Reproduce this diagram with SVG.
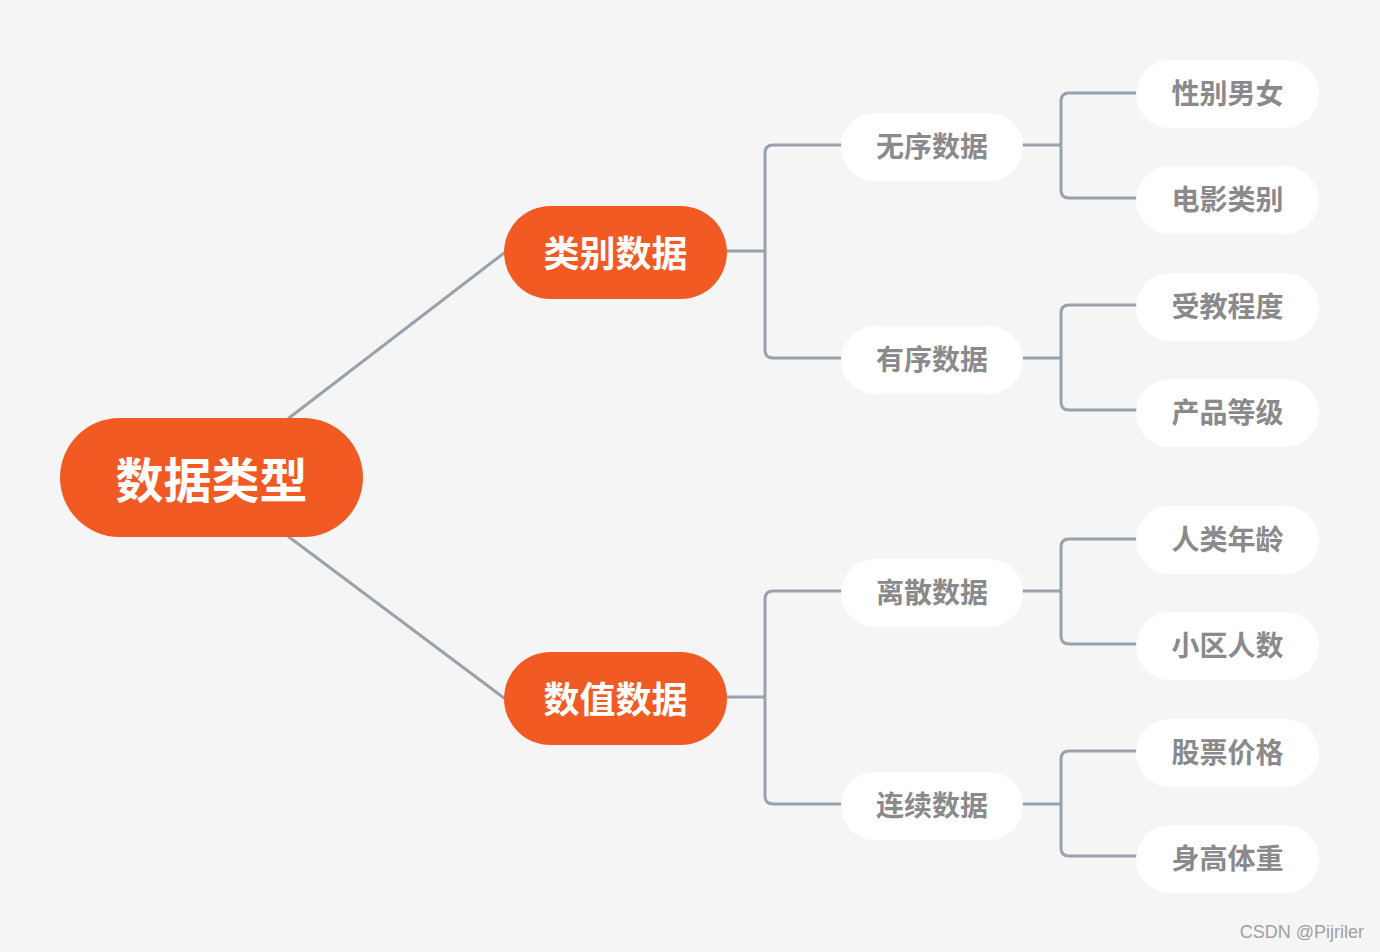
<svg xmlns="http://www.w3.org/2000/svg" width="1380" height="952" viewBox="0 0 1380 952">
<style>
.bg{fill:#f5f5f5}
.conn{fill:none;stroke:#98a2ac;stroke-width:3;stroke-linecap:round;stroke-linejoin:round}
.main{fill:#f25a24}
.sub{fill:#ffffff}
.t{font-family:"Noto Sans CJK SC","Noto Sans",sans-serif;font-weight:bold;text-anchor:middle;dominant-baseline:central}
.tw{fill:#ffffff}
.tg{fill:#8a8a8c;font-size:28px}
.wm{font-family:"Liberation Sans",Arial,sans-serif;font-size:18px;fill:#a0a0a0}
</style>
<rect class="bg" x="0" y="0" width="1380" height="952"/>
<g id="connectors">
<line class="conn" x1="289" y1="418" x2="504" y2="253"/>
<line class="conn" x1="289" y1="537" x2="504" y2="698"/>
<path class="conn" d="M727 251 H765 M841 145 H773 Q765 145 765 153 V350 Q765 358 773 358 H841"/>
<path class="conn" d="M727 697 H765 M841 591 H773 Q765 591 765 599 V796 Q765 804 773 804 H841"/>
<path class="conn" d="M1023 145 H1061 M1137 93 H1069 Q1061 93 1061 101 V190 Q1061 198 1069 198 H1137"/>
<path class="conn" d="M1023 358 H1061 M1137 305 H1069 Q1061 305 1061 313 V402 Q1061 410 1069 410 H1137"/>
<path class="conn" d="M1023 591 H1061 M1137 539 H1069 Q1061 539 1061 547 V636 Q1061 644 1069 644 H1137"/>
<path class="conn" d="M1023 804 H1061 M1137 751 H1069 Q1061 751 1061 759 V848 Q1061 856 1069 856 H1137"/>
</g>
<g id="root">
<rect class="main" x="60" y="418" width="303" height="119" rx="59.5"/>
<text class="t tw" x="211.5" y="477" font-size="48">数据类型</text>
</g>
<g id="n-leibie">
<rect class="main" x="504" y="206" width="223" height="93" rx="46.5"/>
<text class="t tw" x="615.5" y="251" font-size="36">类别数据</text>
</g>
<g id="n-shuzhi">
<rect class="main" x="504" y="652" width="223" height="93" rx="46.5"/>
<text class="t tw" x="615.5" y="697" font-size="36">数值数据</text>
</g>
<g id="n-wuxu">
<rect class="sub" x="841" y="113" width="182" height="68" rx="34"/>
<text class="t tg" x="932" y="145">无序数据</text>
</g>
<g id="n-youxu">
<rect class="sub" x="841" y="326" width="182" height="68" rx="34"/>
<text class="t tg" x="932" y="358">有序数据</text>
</g>
<g id="n-lisan">
<rect class="sub" x="841" y="559" width="182" height="68" rx="34"/>
<text class="t tg" x="932" y="591">离散数据</text>
</g>
<g id="n-lianxu">
<rect class="sub" x="841" y="772" width="182" height="68" rx="34"/>
<text class="t tg" x="932" y="804">连续数据</text>
</g>
<g id="l1">
<rect class="sub" x="1136" y="60" width="183" height="68" rx="34"/>
<text class="t tg" x="1227.5" y="92">性别男女</text>
</g>
<g id="l2">
<rect class="sub" x="1136" y="166" width="183" height="68" rx="34"/>
<text class="t tg" x="1227.5" y="198">电影类别</text>
</g>
<g id="l3">
<rect class="sub" x="1136" y="273" width="183" height="68" rx="34"/>
<text class="t tg" x="1227.5" y="305">受教程度</text>
</g>
<g id="l4">
<rect class="sub" x="1136" y="379" width="183" height="68" rx="34"/>
<text class="t tg" x="1227.5" y="411">产品等级</text>
</g>
<g id="l5">
<rect class="sub" x="1136" y="506" width="183" height="68" rx="34"/>
<text class="t tg" x="1227.5" y="538">人类年龄</text>
</g>
<g id="l6">
<rect class="sub" x="1136" y="612" width="183" height="68" rx="34"/>
<text class="t tg" x="1227.5" y="644">小区人数</text>
</g>
<g id="l7">
<rect class="sub" x="1136" y="719" width="183" height="68" rx="34"/>
<text class="t tg" x="1227.5" y="751">股票价格</text>
</g>
<g id="l8">
<rect class="sub" x="1136" y="825" width="183" height="68" rx="34"/>
<text class="t tg" x="1227.5" y="857">身高体重</text>
</g>
<text class="wm" x="1364" y="938" text-anchor="end">CSDN @Pijriler</text>
</svg>
